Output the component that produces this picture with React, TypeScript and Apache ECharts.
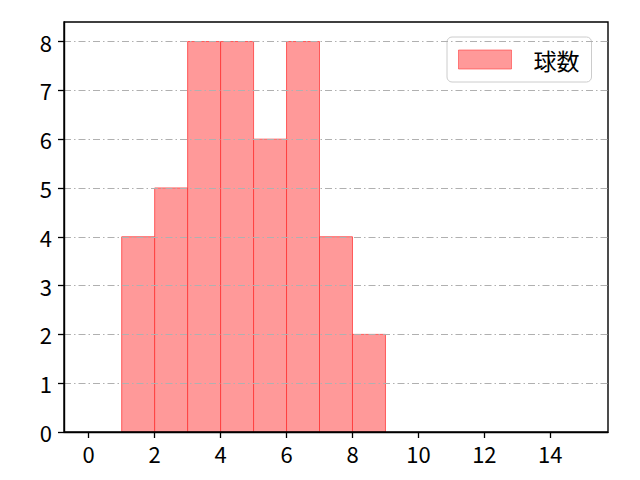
import React, { useEffect, useRef } from "react";
import * as echarts from "echarts";

const binStarts = [1, 2, 3, 4, 5, 6, 7, 8];
const binWidth = 1;
const counts = [4, 5, 8, 8, 6, 8, 4, 2];
const xTicks = [0, 2, 4, 6, 8, 10, 12, 14];
const yTicks = [0, 1, 2, 3, 4, 5, 6, 7, 8];
const seriesName = "球数";

const FONT = "'Noto Sans CJK JP', 'Noto Sans', sans-serif";

export default function App() {
  const ref = useRef<HTMLDivElement>(null);
  useEffect(() => {
    if (!ref.current) return;
    const chart = echarts.init(ref.current, null, { renderer: "svg" });
    const data = binStarts.map((s, i) => [s, s + binWidth, counts[i]]);
    chart.setOption({
      animation: false,
      backgroundColor: "#ffffff",
      textStyle: { fontFamily: FONT },
      grid: {
        left: 64,
        right: 32,
        top: 22,
        bottom: 48,
        show: true,
        borderColor: "#000000",
        borderWidth: 1.4,
        backgroundColor: "transparent",
        z: 4,
      },
      legend: {
        data: [{ name: seriesName, icon: "rect" }],
        left: 447,
        top: 37,
        orient: "vertical",
        padding: [11, 12, 11, 11],
        itemWidth: 53,
        itemHeight: 19,
        borderColor: "#cccccc",
        borderWidth: 1,
        borderRadius: 5,
        backgroundColor: "rgba(255,255,255,0.8)",
        textStyle: {
          fontSize: 23,
          color: "#000",
          fontFamily: FONT,
          padding: [0, 0, 0, 17],
        },
        itemStyle: {
          color: "#ff9999",
          borderColor: "rgba(255,60,60,0.6)",
          borderWidth: 1,
        },
      },
      xAxis: {
        type: "value",
        min: -0.75,
        max: 15.75,
        z: 5,
        axisLine: { show: true, onZero: false, lineStyle: { color: "#000", width: 1.4 } },
        axisTick: {
          show: true,
          length: 6,
          customValues: xTicks,
          lineStyle: { color: "#000", width: 1.3 },
        },
        axisLabel: {
          customValues: xTicks,
          fontSize: 22,
          color: "#000",
          margin: 10,
          fontFamily: FONT,
        },
        splitLine: { show: false },
      },
      yAxis: {
        type: "value",
        min: 0,
        max: 8.4,
        interval: 1,
        z: 5,
        axisLine: { show: true, onZero: false, lineStyle: { color: "#000", width: 1.4 } },
        axisTick: {
          show: true,
          length: 6,
          customValues: yTicks,
          lineStyle: { color: "#000", width: 1.3 },
        },
        axisLabel: {
          customValues: yTicks,
          fontSize: 22,
          color: "#000",
          margin: 12,
          fontFamily: FONT,
        },
        splitLine: {
          show: true,
          lineStyle: { color: "#b0b0b0", width: 1.1, type: [7, 3, 1.5, 3] },
        },
      },
      series: [
        {
          name: seriesName,
          type: "custom",
          itemStyle: { color: "#ff9999", borderColor: "rgba(255,60,60,0.6)" },
          renderItem: (params: any, api: any) => {
            const x0 = api.value(0);
            const x1 = api.value(1);
            const v = api.value(2);
            const p0 = api.coord([x0, v]);
            const p1 = api.coord([x1, 0]);
            return {
              type: "rect",
              shape: { x: p0[0], y: p0[1], width: p1[0] - p0[0], height: p1[1] - p0[1] },
              style: {
                fill: "#ff9999",
                stroke: "rgba(255,40,40,0.7)",
                lineWidth: 1,
              },
            };
          },
          encode: { x: [0, 1], y: 2 },
          data,
        },
      ],
    });
    return () => chart.dispose();
  }, []);
  return (
    <div
      ref={ref}
      style={{ position: "absolute", left: 0, top: 0, width: 640, height: 480 }}
    />
  );
}
